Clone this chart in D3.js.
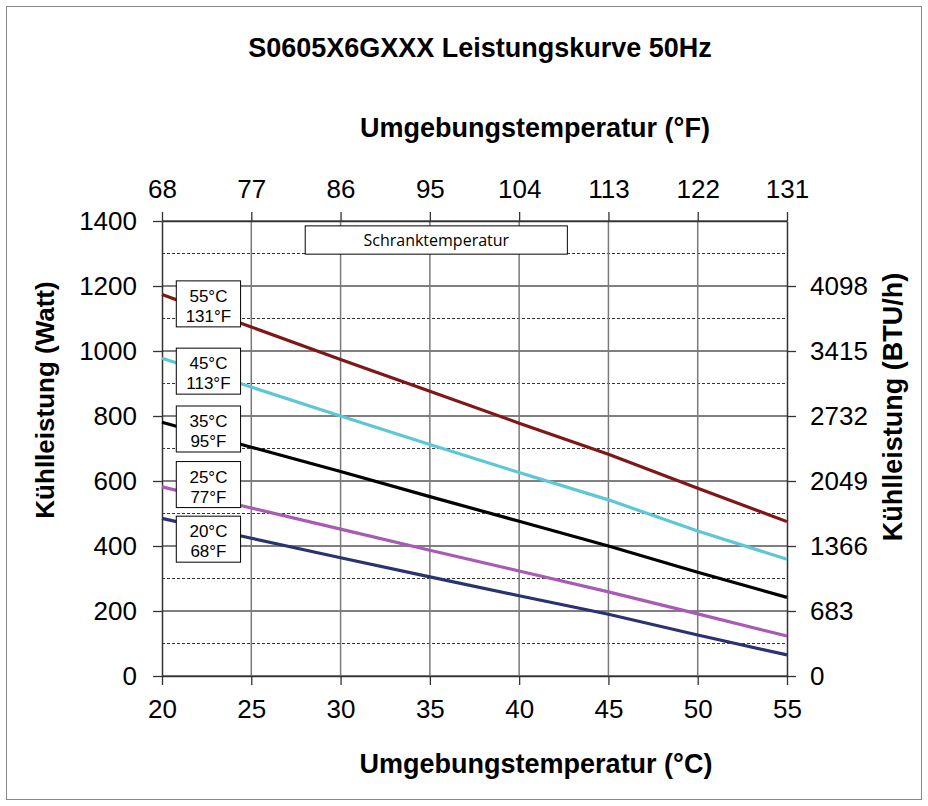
<!DOCTYPE html>
<html><head><meta charset="utf-8">
<script src="https://cdn.jsdelivr.net/npm/d3@7"></script>
<style>
html,body{margin:0;padding:0;background:#fff;}
svg{display:block;}
</style></head>
<body>
<script>
// ---- data ----
const celsius = [20, 25, 30, 35, 40, 45, 50, 55];
const cabinet55 = [1174, 1074, 974, 876, 778, 682, 578, 475];
const cabinet45 = [978, 889, 800, 712, 626, 542, 446, 359];
const cabinet35 = [781, 704, 629, 552, 476, 400, 319, 242];
const cabinet25 = [582, 517, 452, 387, 323, 259, 191, 123];
const cabinet20 = [485, 424, 364, 305, 247, 190, 126, 65];
const seriesNames = ["55°C|131°F", "45°C|113°F", "35°C|95°F", "25°C|77°F", "20°C|68°F"];
const seriesColors = ["#7f1719", "#5cc8d7", "#000000", "#a75bb5", "#28336f"];
const labelCenters = [1145, 938, 760, 589, 421]; // Watt value of label box centers
const wattTicks = [0, 200, 400, 600, 800, 1000, 1200, 1400];
const wattMinor = [100, 300, 500, 700, 900, 1100, 1300];
const celsiusTicks = [20, 25, 30, 35, 40, 45, 50, 55];
const fahrenheitTicks = [68, 77, 86, 95, 104, 113, 122, 131];
const btuTicks = [0, 683, 1366, 2049, 2732, 3415, 4098];
const btuPerWatt = 3.415;

const W = 928, H = 806;
const svg = d3.select("body").append("svg").attr("width", W).attr("height", H);
const font = "'Liberation Sans', Arial, sans-serif";

// outer frame
svg.append("rect").attr("x", 6.5).attr("y", 6.5).attr("width", 915).attr("height", 793)
  .attr("fill", "#fff").attr("stroke", "#8a8a8a").attr("stroke-width", 1);

const x = d3.scaleLinear().domain([20, 55]).range([162, 787]);
const y = d3.scaleLinear().domain([0, 1400]).range([676, 221]);
const xF = d3.scaleLinear().domain([68, 131]).range([162, 787]);
const yB = d3.scaleLinear().domain([0, 1400 * btuPerWatt]).range([676, 221]);

const g = svg.append("g");

// minor dashed grid
g.selectAll("line.minor").data(wattMinor).join("line")
  .attr("x1", x(20)).attr("x2", x(55)).attr("y1", d => y(d)).attr("y2", d => y(d))
  .attr("stroke", "#333").attr("stroke-width", 1).attr("stroke-dasharray", "3,2");
// major horizontal grid
g.selectAll("line.major").data(wattTicks).join("line")
  .attr("x1", x(20)).attr("x2", x(55)).attr("y1", d => y(d)).attr("y2", d => y(d))
  .attr("stroke", "#000").attr("stroke-width", 1);
// vertical grid
g.selectAll("line.vg").data(celsiusTicks.slice(1, -1)).join("line")
  .attr("x1", d => x(d)).attr("x2", d => x(d)).attr("y1", y(0)).attr("y2", y(1400))
  .attr("stroke", "#7a7a7a").attr("stroke-width", 1.5);

// axes
function styleAxis(sel) {
  sel.selectAll("text").attr("font-family", font).attr("font-size", 26).attr("fill", "#000");
  sel.selectAll("line").attr("stroke", "#333").attr("stroke-width", 1.3);
  sel.select(".domain").attr("stroke", "#333").attr("stroke-width", 1.5);
}
svg.append("g").attr("transform", `translate(0,${y(0)})`)
  .call(d3.axisBottom(x).tickValues(celsiusTicks).tickSize(9).tickPadding(15).tickSizeOuter(0).tickFormat(d3.format("d")))
  .call(styleAxis);
svg.append("g").attr("transform", `translate(0,${y(1400)})`)
  .call(d3.axisTop(xF).tickValues(fahrenheitTicks).tickSize(9).tickPadding(14).tickSizeOuter(0).tickFormat(d3.format("d")))
  .call(styleAxis);
svg.append("g").attr("transform", `translate(${x(20)},0)`)
  .call(d3.axisLeft(y).tickValues(wattTicks).tickSize(9).tickPadding(16).tickSizeOuter(0).tickFormat(d3.format("d")))
  .call(styleAxis);
svg.append("g").attr("transform", `translate(${x(55)},0)`)
  .call(d3.axisRight(yB).tickValues(btuTicks).tickSize(9).tickPadding(14).tickSizeOuter(0).tickFormat(d3.format("d")))
  .call(styleAxis);

// series lines
const allSeries = [cabinet55, cabinet45, cabinet35, cabinet25, cabinet20];
const line = d3.line().x((d, i) => x(celsius[i])).y(d => y(d));
svg.selectAll("path.series").data(allSeries).join("path")
  .attr("d", line).attr("fill", "none")
  .attr("stroke", (d, i) => seriesColors[i]).attr("stroke-width", 3.2);

// series labels
const lbl = svg.selectAll("g.lbl").data(seriesNames).join("g");
const boxH = 46;
lbl.append("rect")
  .attr("x", x(20.8)).attr("width", x(24.4) - x(20.8))
  .attr("y", (d, i) => y(labelCenters[i]) - boxH / 2).attr("height", boxH)
  .attr("fill", "#fff").attr("stroke", "#000").attr("stroke-width", 1);
lbl.each(function (d, i) {
  const parts = d.split("|");
  const cx = (x(20.8) + x(24.4)) / 2;
  const top = y(labelCenters[i]) - boxH / 2;
  parts.forEach((p, k) => {
    d3.select(this).append("text").attr("x", cx).attr("y", top + 21 + k * 20)
      .attr("text-anchor", "middle").attr("font-family", font).attr("font-size", 17).text(p);
  });
});

// Schranktemperatur box
svg.append("rect").attr("x", x(28.02)).attr("width", x(42.7) - x(28.02))
  .attr("y", y(1385)).attr("height", y(1298) - y(1385))
  .attr("fill", "#fff").attr("stroke", "#000").attr("stroke-width", 1);
svg.append("text").attr("x", (x(28.02) + x(42.7)) / 2).attr("y", y(1385) + 20)
  .attr("text-anchor", "middle").attr("font-family", "'Open Sans', sans-serif").attr("font-size", 16)
  .text("Schranktemperatur");

// titles
svg.append("text").attr("x", 480).attr("y", 57).attr("text-anchor", "middle")
  .attr("font-family", font).attr("font-weight", "bold").attr("font-size", 27)
  .text("S0605X6GXXX Leistungskurve 50Hz");
svg.append("text").attr("x", 535).attr("y", 137).attr("text-anchor", "middle")
  .attr("font-family", font).attr("font-weight", "bold").attr("font-size", 27)
  .text("Umgebungstemperatur (°F)");
svg.append("text").attr("x", 536).attr("y", 773).attr("text-anchor", "middle")
  .attr("font-family", font).attr("font-weight", "bold").attr("font-size", 27)
  .text("Umgebungstemperatur (°C)");
svg.append("text").attr("transform", "translate(54,400) rotate(-90)").attr("text-anchor", "middle")
  .attr("font-family", font).attr("font-weight", "bold").attr("font-size", 26)
  .text("Kühlleistung (Watt)");
svg.append("text").attr("transform", "translate(902,407) rotate(-90)").attr("text-anchor", "middle")
  .attr("font-family", font).attr("font-weight", "bold").attr("font-size", 27)
  .text("Kühlleistung (BTU/h)");
</script>
</body></html>
